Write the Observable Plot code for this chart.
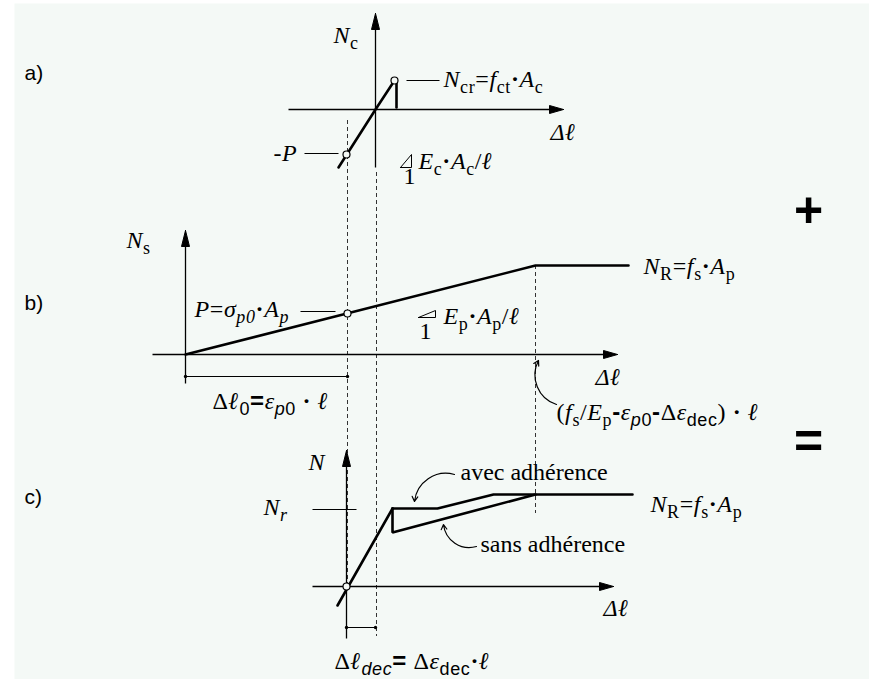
<!DOCTYPE html>
<html><head><meta charset="utf-8">
<script src="https://cdn.jsdelivr.net/npm/d3@7"></script>
<script src="https://cdn.jsdelivr.net/npm/@observablehq/plot@0.6"></script>
<style>body{margin:0;background:#fff}</style>
</head><body><div id="chart"></div>
<script>
// ---------- data (local units: Δℓ to the right, N upward) ----------
const dl0 = 162;     // Δℓ0 = εp0·ℓ
const dldec = 29;    // Δℓdec = Δεdec·ℓ
const dlYield = 350; // (fs/Ep − εp0 − Δεdec)·ℓ measured from b origin
// a) concrete
const concreteA = [{dl:-37,N:-58},{dl:0,N:0},{dl:19,N:29}];
const crackDropA = [{dl:21,N:26},{dl:21,N:2}];
const pointsA = [{dl:19,N:29},{dl:-29,N:-45}];
// b) prestressing steel
const steelB = [{dl:0,N:0},{dl:350,N:89},{dl:443,N:89}];
const pointsB = [{dl:162,N:41}];
// c) sum
const riseC = [{dl:-9,N:-19},{dl:46,N:78}];
const avecC = [{dl:46,N:78},{dl:91,N:78},{dl:147,N:92},{dl:286,N:92}];
const sansC = [{dl:46,N:78},{dl:46,N:54},{dl:189,N:92}];
const pointsC = [{dl:0,N:0}];
// axis extents per panel (local)
const axesExt = {a:{x:[-87,188],y:[-58,96]}, b:{x:[-33,432],y:[-29,124]}, c:{x:[-34,267],y:[-52,136]}};
// slope triangles (local)
const slopeTri = {a:[{dl:25,N:-58},{dl:36,N:-45},{dl:36,N:-58},{dl:25,N:-58}],
                  b:[{dl:233,N:37},{dl:250,N:44},{dl:250,N:37},{dl:233,N:37}]};

// ---------- layout ----------
const origin = {a:[375,109], b:[185,354], c:[346,586]};
const gx = p => d => origin[p][0] + d.dl;
const gy = p => d => origin[p][1] - d.N;
const BG = "#f4f9f6";
const SERIF = "'Liberation Serif', 'Times New Roman', Times, serif";
const SANS = "'Liberation Sans', Arial, Helvetica, sans-serif";

// axis lines + arrowheads
const axisLines = [], heads = [];
for (const p of ["a","b","c"]) {
  const e = axesExt[p];
  axisLines.push({p, x1:e.x[0], y1:0, x2:e.x[1]-10, y2:0});
  axisLines.push({p, x1:0, y1:e.y[0], x2:0, y2:e.y[1]-12});
  const hx = [{dl:e.x[1],N:0},{dl:e.x[1]-14,N:4},{dl:e.x[1]-14,N:-4},{dl:e.x[1],N:0}];
  const hy = [{dl:0,N:e.y[1]},{dl:-4,N:e.y[1]-16},{dl:4,N:e.y[1]-16},{dl:0,N:e.y[1]}];
  hx.forEach(d => heads.push({...d, p, id:p+"x"}));
  hy.forEach(d => heads.push({...d, p, id:p+"y"}));
}
const AX = d => origin[d.p][0] + d.dl, AY = d => origin[d.p][1] - d.N;

// dashed projection lines (positions from panel b values)
const dashed = [
  {dl:dl0, top:120, bottom:586},
  {dl:dl0+dldec, top:172, bottom:636},
  {dl:dlYield, top:265, bottom:513}
];
// dimension lines
const dims = [
  {p:"b", a:0, b:dl0, N:-22},
  {p:"c", a:0, b:dldec, N:-41}
];
// leader lines (global)
const leaders = [
  {x1:406,x2:439,y:80},{x1:304,x2:338,y:153},{x1:300,x2:335,y:311},{x1:312,x2:356,y:509}
];
// curved arrows (global)
const curvedLeft = [{x1:454,y1:474,x2:414,y2:501}];
const curvedRight = [{x1:476,y1:546,x2:443,y2:524},{x1:556,y1:404,x2:538,y2:360}];

// labels with markup: *italic*  !bold!  ~sans~  _{subscript}
const labels = [
  {t:"*N*_{c}", x:333, y:42},
  {t:"*N*_{cr}=*f*_{ct}!·!*A*_{c}", x:443, y:86},
  {t:"-*P*", x:273, y:160},
  {t:"*Δ*!*ℓ*!", x:550, y:139},
  {t:"1", x:403, y:183},
  {t:"*E*_{c}!·!*A*_{c}/!*ℓ*!", x:418, y:168},
  {t:"*N*_{s}", x:126, y:247},
  {t:"*P*=*σ*_{*p0*}!·!*A*_{*p*}", x:194, y:316},
  {t:"1", x:419, y:338},
  {t:"*E*_{p}!·!*A*_{p}/!*ℓ*!", x:443, y:323},
  {t:"*Δ*!*ℓ*!", x:595, y:384},
  {t:"*N*_{R}=*f*_{s}!·!*A*_{p}", x:643, y:273},
  {t:"(*f*_{s}/*E*_{p}~!-!~*ε*_{~*p*0~}~!-!~Δ*ε*_{~dec~}) !·! !*ℓ*!", x:556, y:419},
  {t:"Δ!*ℓ*!_{~0~}~!=!~*ε*_{~*p*0~} !·! !*ℓ*!", x:212, y:408},
  {t:"*N*", x:308, y:469},
  {t:"*N*_{*r*}", x:263, y:514},
  {t:"avec adhérence", x:460, y:479},
  {t:"sans adhérence", x:480, y:551},
  {t:"*N*_{R}=*f*_{s}!·!*A*_{p}", x:650, y:511},
  {t:"*Δ*!*ℓ*!", x:603, y:615},
  {t:"Δ!*ℓ*!_{~*dec*~}~!=!~ Δ*ε*_{~dec~}!·!!*ℓ*!", x:334, y:668}
];
const panelTags = [{t:"a)",x:24,y:79},{t:"b)",x:24,y:309},{t:"c)",x:24,y:503}];
const operators = [{t:"+",x:808,y:210},{t:"=",x:808,y:441}];

const thick = {stroke:"#000", strokeWidth:2.6, strokeLinejoin:"miter"};
const chart = Plot.plot({
  width:869, height:679, marginLeft:14, marginTop:3, marginRight:0, marginBottom:0,
  x:{domain:[0,869], range:[0,869], axis:null},
  y:{domain:[0,679], range:[0,679], axis:null},
  style:{background:"#fff", overflow:"visible"},
  marks:[
    Plot.frame({fill:BG, stroke:"none"}),
    Plot.ruleX(dashed, {x:d=>origin.b[0]+d.dl, y1:"top", y2:"bottom", stroke:"#333", strokeWidth:1, strokeDasharray:"4,3"}),
    Plot.link(axisLines, {x1:d=>origin[d.p][0]+d.x1, y1:d=>origin[d.p][1]-d.y1, x2:d=>origin[d.p][0]+d.x2, y2:d=>origin[d.p][1]-d.y2, stroke:"#000", strokeWidth:1.3}),
    Plot.line(heads, {x:AX, y:AY, z:"id", fill:"#000", stroke:"#000", strokeWidth:1}),
    Plot.link(leaders, {x1:"x1", x2:"x2", y1:"y", y2:"y", stroke:"#000", strokeWidth:1}),
    Plot.link(dims, {x1:d=>origin[d.p][0]+d.a, x2:d=>origin[d.p][0]+d.b, y1:d=>origin[d.p][1]-d.N, y2:d=>origin[d.p][1]-d.N, stroke:"#000", strokeWidth:1, markerStart:"dot", markerEnd:"dot"}),
    Plot.line(slopeTri.a, {x:gx("a"), y:gy("a"), stroke:"#000", strokeWidth:1}),
    Plot.line(slopeTri.b, {x:gx("b"), y:gy("b"), stroke:"#000", strokeWidth:1}),
    Plot.arrow(curvedLeft, {x1:"x1", y1:"y1", x2:"x2", y2:"y2", bend:-50, headLength:7, stroke:"#000", strokeWidth:1.2}),
    Plot.arrow(curvedRight, {x1:"x1", y1:"y1", x2:"x2", y2:"y2", bend:50, headLength:7, stroke:"#000", strokeWidth:1.2}),
    Plot.line(concreteA, {x:gx("a"), y:gy("a"), ...thick}),
    Plot.line(crackDropA, {x:gx("a"), y:gy("a"), ...thick}),
    Plot.line(steelB, {x:gx("b"), y:gy("b"), ...thick}),
    Plot.line(riseC, {x:gx("c"), y:gy("c"), ...thick}),
    Plot.line(avecC, {x:gx("c"), y:gy("c"), ...thick}),
    Plot.line(sansC, {x:gx("c"), y:gy("c"), ...thick}),
    Plot.dot(pointsA, {x:gx("a"), y:gy("a"), r:3.5, fill:BG, stroke:"#000", strokeWidth:1.2}),
    Plot.dot(pointsB, {x:gx("b"), y:gy("b"), r:3.5, fill:BG, stroke:"#000", strokeWidth:1.2}),
    Plot.dot(pointsC, {x:gx("c"), y:gy("c"), r:3.5, fill:BG, stroke:"#000", strokeWidth:1.2}),
    Plot.text(labels, {x:"x", y:"y", text:"t", textAnchor:"start", lineAnchor:"bottom", fontSize:24, fontFamily:SERIF, fill:"#000"}),
    Plot.text(panelTags, {x:"x", y:"y", text:"t", textAnchor:"start", lineAnchor:"bottom", fontSize:21, fontFamily:SANS, fill:"#000"}),
    Plot.text(operators, {x:"x", y:"y", text:"t", textAnchor:"middle", lineAnchor:"middle", fontSize:50, fontWeight:"bold", fontFamily:SANS, fill:"#000"})
  ]
});
document.getElementById("chart").appendChild(chart);

// rich-text post-processing for the markup in labels
const SUB = 18, SHIFT = 6;
chart.querySelectorAll("text").forEach(el => {
  const s = el.textContent;
  if (!/[*!~_]/.test(s)) return;
  const segs = []; const st = {i:false,b:false,f:false,sub:false}; let buf = "";
  const flush = () => { if (buf) segs.push({t:buf, ...st}); buf = ""; };
  for (let k = 0; k < s.length; k++) {
    const ch = s[k];
    if (ch === "_" && s[k+1] === "{") { flush(); st.sub = true; k++; continue; }
    if (ch === "}" && st.sub) { flush(); st.sub = false; continue; }
    if (ch === "*") { flush(); st.i = !st.i; continue; }
    if (ch === "!") { flush(); st.b = !st.b; continue; }
    if (ch === "~") { flush(); st.f = !st.f; continue; }
    buf += ch;
  }
  flush();
  while (el.firstChild) el.removeChild(el.firstChild);
  el.setAttribute("letter-spacing", "0.6");
  let cur = false;
  for (const g of segs) {
    const t = document.createElementNS("http://www.w3.org/2000/svg", "tspan");
    if (g.i) t.setAttribute("font-style", "italic");
    if (g.b) t.setAttribute("font-weight", "bold");
    if (g.f) t.setAttribute("font-family", SANS);
    if (g.sub) t.setAttribute("font-size", SUB);
    if (g.sub !== cur) { t.setAttribute("dy", g.sub ? SHIFT : -SHIFT); cur = g.sub; }
    t.textContent = g.t;
    el.appendChild(t);
  }
});
</script>
</body></html>
